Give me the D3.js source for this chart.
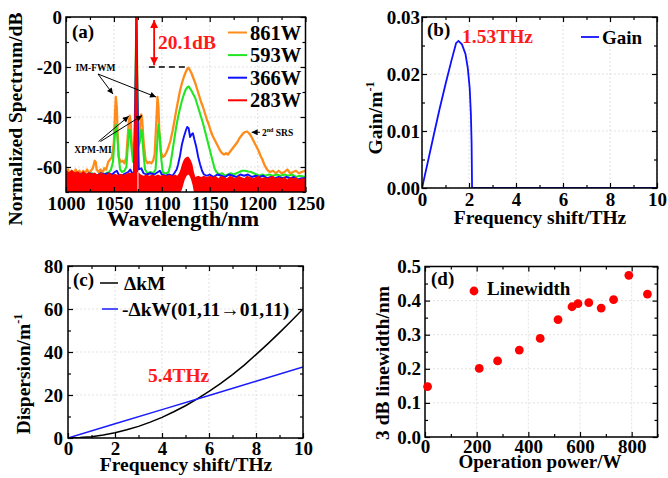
<!DOCTYPE html>
<html>
<head>
<meta charset="utf-8">
<title>fiber laser spectra</title>
<script src="https://cdn.jsdelivr.net/npm/d3@7"></script>
<style>
  body { margin: 0; background: #fff; }
  text { font-family: 'Liberation Serif', 'Times New Roman', serif; font-weight: bold; }
</style>
</head>
<body>
<svg id="fig" width="668" height="478"></svg>
<script>
// ---- panel (a): normalized spectra ----
var wl861 = [1000,1002,1004,1006,1008,1010,1012,1014,1016,1018,
  1020,1022,1024,1026,1028,1030,1031,1032,1034,1036,
  1038,1040,1042,1044,1046,1048,1050,1051,1052,1053,
  1054,1055,1057,1059,1061,1063,1064,1065.5,1066.5,1067.5,
  1068.5,1070,1071.5,1072.5,1073.5,1074.5,1075.5,1077,1078.5,1079.5,
  1081,1083,1085,1087,1089,1091,1092.5,1094,1095.5,1096.5,
  1097.5,1099,1101,1103,1105,1107,1109,1111,1113,1115,
  1117,1119,1121,1123,1125,1127,1128,1129,1131,1133,
  1135,1137,1139,1141,1143,1145,1147,1149,1151,1153,
  1155,1157,1159,1161,1163,1165,1167,1169,1171,1173,
  1175,1177,1179,1181,1183,1185,1187,1189,1191,1193,
  1195,1197,1199,1201,1203,1205,1207,1209,1211,1213,
  1216,1219,1222,1225,1228,1231,1234,1237,1240,1243,
  1246,1250];
var db861 = [-62,-61,-63,-61.5,-62.5,-61,-62.5,-61.5,-63,-61.5,
  -62.5,-61,-62.5,-61.5,-60.5,-57.5,-58,-61,-62,-61,
  -62.5,-60.5,-61,-58,-57,-56,-50,-40,-32,-36,
  -48,-56,-58,-57.5,-58.5,-56,-50,-42,-39.5,-42,
  -50,-54,-50,-30,0,-30,-48,-45,-39,-41,
  -50,-57,-58.5,-58,-58.5,-57.5,-55,-44,-32,-36,
  -47,-54,-56,-55.5,-54,-52,-49.5,-46,-42,-37.5,
  -33.5,-29.5,-26.5,-24,-22,-20.5,-20.3,-21,-22.5,-24.5,
  -26.5,-29,-31.5,-34,-36,-38.5,-41,-43,-45.5,-47.5,
  -49,-50.5,-52,-53.5,-54.5,-55,-54.5,-55,-54,-53,
  -52,-51,-50,-48.5,-47.5,-46.5,-46,-45.8,-46.5,-47.5,
  -49,-50.5,-52,-53.5,-55.5,-57,-59,-60.5,-61.5,-62,
  -61.5,-62.5,-61.5,-62.5,-62,-61,-62.5,-62,-61.5,-62.5,
  -62,-61.5];

var wl593 = [1000,1003,1006,1009,1012,1015,1018,1021,1024,1027,
  1030,1033,1036,1039,1042,1045,1047,1049,1050.5,1052,
  1053.5,1055,1056.5,1058.5,1061,1063,1064.5,1066,1067,1068.5,
  1070,1071.5,1072.5,1073.5,1074.5,1075.5,1077,1078.5,1079.5,1081,
  1082.5,1085,1088,1091,1093.5,1095,1096.5,1098,1099.5,1101,
  1103,1105,1107,1109,1111,1113,1115,1117,1119,1121,
  1123,1125,1127,1128,1129,1131,1133,1135,1137,1139,
  1141,1143,1145,1147,1149,1151,1153,1155,1157,1160,
  1163,1166,1169,1172,1175,1178,1181,1184,1187,1190,
  1193,1196,1199,1202,1205,1208,1212,1216,1220,1224,
  1228,1232,1236,1240,1244,1250];
var db593 = [-63,-62.5,-63.5,-62.5,-63.5,-63,-62.5,-63.5,-63,-62.5,
  -63,-63.5,-62.5,-63,-62.5,-62,-61,-58,-50,-43,
  -47,-56,-61,-62,-61.5,-60,-52,-45,-46,-53,
  -58,-55,-30,0,-30,-52,-50,-45,-47,-55,
  -61,-62.5,-62,-62.5,-61,-52,-43,-48,-57,-62,
  -62.5,-62.5,-62,-59,-54,-49,-44,-40,-36.5,-33.5,
  -31,-29,-28,-27.8,-28.3,-29.5,-31,-32.5,-35,-37.5,
  -40,-42.5,-45.5,-48.5,-51.5,-54.5,-57.5,-60.5,-62,-63,
  -62.5,-63.5,-63,-62.5,-63,-62.5,-62,-61.5,-61.5,-61.8,
  -62,-62.5,-63,-63.5,-63,-63.5,-63,-63.5,-63,-63.5,
  -63,-63.5,-63,-64,-63.5,-64];

var wl366 = [1000,1004,1008,1012,1016,1020,1024,1028,1032,1036,
  1040,1044,1048,1051,1053,1055,1058,1062,1065,1067,
  1069,1071,1072.5,1073.5,1074.5,1076,1078.5,1081,1084,1088,
  1092,1096,1098,1100,1104,1108,1111,1113,1115.5,1117,
  1119,1121,1123,1125,1126.5,1128,1129.5,1131,1132.5,1134,
  1136,1138,1140,1142,1144,1147,1150,1154,1158,1162,
  1166,1170,1174,1178,1182,1186,1190,1194,1198,1202,
  1206,1210,1214,1218,1222,1226,1230,1234,1238,1242,
  1246,1250];
var db366 = [-63.5,-62.5,-63.5,-62.5,-63,-63.5,-62.5,-63,-63.5,-62.5,
  -63,-62.5,-63,-62,-61.5,-63,-63.5,-62.5,-62,-61,
  -62.5,-62,-30,0,-30,-61,-60.5,-62.5,-63,-62.5,
  -63,-62,-61.5,-63,-63.5,-63,-63.5,-62.5,-61,-59,
  -55.5,-51,-48,-45.5,-44,-44.5,-48,-47,-46.5,-49,
  -52,-56,-59,-61.5,-63,-63.5,-63,-64,-63,-63.5,
  -64,-63,-63.5,-64,-63,-63.5,-63,-64,-63.5,-64,
  -63.5,-64.5,-64,-64.5,-64,-64.5,-64,-64.5,-64,-65,
  -64.5,-64.5];

// 283W is a noisy band: upper edge hi283, lower edge lo283
var wl283 = [1000,1003,1006,1009,1012,1015,1018,1021,1024,1027,
  1030,1033,1036,1039,1042,1045,1048,1051,1054,1057,
  1060,1063,1066,1069,1071,1072.5,1073.5,1074.6,1074.6,1075.6,
  1075.6,1078,1081,1084,1087,1090,1093,1096,1099,1102,
  1105,1108,1111,1114,1116,1118,1119.5,1121,1122.5,1124,
  1126,1127.5,1129,1130.5,1132,1133.5,1135,1138,1141,1144,
  1147,1150,1153,1156,1159,1162,1165,1168,1171,1174,
  1177,1180,1183,1186,1189,1192,1195,1198,1201,1204,
  1207,1210,1213,1216,1219,1222,1225,1228,1231,1234,
  1237,1240,1243,1246,1250];
var hi283 = [-61.5,-62.5,-61.5,-62.5,-62,-63,-62,-63,-62.5,-63,
  -62.5,-63.5,-62.5,-63,-63.5,-62.5,-63.5,-63,-63.5,-63,
  -63.5,-63,-62.5,-63,-62,-30,0,-40,-62,-62,
  -62,-63,-63.5,-63,-63.5,-63,-63.5,-63,-63.5,-63,
  -63.5,-63,-63.5,-63,-63.5,-62.5,-61,-59,-57.5,-56.5,
  -56,-55.8,-56.5,-57.5,-59,-62,-64,-63.5,-64,-63.5,
  -64,-63.5,-64,-63.5,-64.5,-63.5,-64,-64.5,-63.5,-64,
  -64.5,-63.5,-64,-64.5,-63.5,-64,-64.5,-64,-63.5,-64.5,
  -64,-64.5,-64,-63.5,-64.5,-64,-64.5,-64,-65,-64,
  -64.5,-64,-65,-64.5,-64.5];
var lo283 = [-70,-70,-70,-70,-70,-70,-70,-70,-70,-70,
  -70,-70,-70,-70,-70,-70,-70,-70,-70,-70,
  -70,-70,-70,-70,-70,-70,-70,-70,-62,-62,
  -70,-70,-70,-70,-70,-70,-70,-70,-70,-70,
  -70,-70,-70,-70,-70,-70,-70,-69,-67,-65,
  -63.5,-63,-63.5,-65,-67,-70,-70,-70,-70,-70,
  -70,-70,-70,-70,-70,-70,-70,-70,-70,-70,
  -70,-70,-70,-70,-70,-70,-70,-70,-70,-70,
  -70,-70,-70,-70,-70,-70,-70,-70,-70,-70,
  -70,-70,-70,-70,-70];

var powerNames = ["861W", "593W", "366W", "283W"];
var powerColors = ["#ff8c1a", "#22e622", "#1010ff", "#ff0000"];

// ---- panel (b): MI gain ----
var gainF = [0,0.25,0.5,0.75,1.0,1.25,1.45,1.55,1.7,1.85,1.95,2.03,2.08,2.11,2.13,4,6,8,10];
var gainG = [0,0.0046,0.0093,0.0139,0.0182,0.0223,0.0254,0.0258,0.0252,0.0235,0.021,0.0175,0.013,0.008,0,0,0,0,0];

// ---- panel (c): phase mismatch ----
var dispF = [0,0.5,1,1.5,2,2.5,3,3.5,4,4.5,5,5.5,6,6.5,7,7.5,8,8.5,9,9.5,10];
var dkM = [0,0.2,0.6,1.4,2.4,3.8,5.4,7.4,9.6,12.2,15,18.2,21.7,25.4,29.5,33.9,38.8,43.8,49,54.4,60];
var dkWF = [0,2,4,6,8,10];
var dkW = [0,6.6,13.2,19.8,26.4,33];

// ---- panel (d): linewidth vs power ----
var opPower = [10,210,281,365,446,515,569,592,634,682,730,789,861];
var linewidth = [0.148,0.201,0.223,0.255,0.289,0.344,0.382,0.391,0.394,0.378,0.403,0.474,0.419];

// tick values
var aTicksX = [1000,1050,1100,1150,1200,1250], aMinorX = [1025,1075,1125,1175,1225];
var aTicksY = [-60,-40,-20,0], aMinorY = [-70,-50,-30,-10];
var bTicksX = [0,2,4,6,8,10], bMinorX = [1,3,5,7,9];
var bTicksY = [0,0.01,0.02,0.03], bMinorY = [0.005,0.015,0.025];
var cTicksX = [0,2,4,6,8,10], cMinorX = [1,3,5,7,9];
var cTicksY = [0,20,40,60,80], cMinorY = [10,30,50,70];
var dTicksX = [0,200,400,600,800], dMinorX = [100,300,500,700,900];
var dTicksY = [0,0.1,0.2,0.3,0.4,0.5], dMinorY = [0.05,0.15,0.25,0.35,0.45];

var FS = 19;
var FONT = "'Liberation Serif', 'Times New Roman', Times, serif";
var svg = d3.select("#fig");

var defs = svg.append("defs");
defs.append("marker").attr("id", "arrBlack")
    .attr("viewBox", "0 0 10 10").attr("refX", 10).attr("refY", 5)
    .attr("markerUnits", "userSpaceOnUse").attr("markerWidth", 7).attr("markerHeight", 6)
    .attr("orient", "auto")
  .append("path").attr("d", "M0,0L10,5L0,10z").attr("fill", "#000");
defs.append("marker").attr("id", "arrRed")
    .attr("viewBox", "0 0 10 10").attr("refX", 10).attr("refY", 5)
    .attr("markerUnits", "userSpaceOnUse").attr("markerWidth", 9).attr("markerHeight", 8)
    .attr("orient", "auto-start-reverse")
  .append("path").attr("d", "M0,0L10,5L0,10z").attr("fill", "#ff0000");

function panel(o) {
    var x = d3.scaleLinear().domain(o.xDom).range([o.l, o.r]);
    var y = d3.scaleLinear().domain(o.yDom).range([o.b, o.t]);
    var g = svg.append("g");
    defs.append("clipPath").attr("id", "clip-" + o.name)
      .append("rect").attr("x", o.l).attr("y", o.t)
      .attr("width", o.r - o.l).attr("height", o.b - o.t);

    var grid = g.append("g").attr("stroke", "#d9d9d9")
        .attr("stroke-width", 0.8).attr("stroke-dasharray", "2,2");
    grid.selectAll(".gx").data(o.xMajor).join("line").attr("class", "gx")
        .attr("x1", function(d) { return x(d); }).attr("x2", function(d) { return x(d); })
        .attr("y1", o.t).attr("y2", o.b);
    grid.selectAll(".gy").data(o.yMajor).join("line").attr("class", "gy")
        .attr("y1", function(d) { return y(d); }).attr("y2", function(d) { return y(d); })
        .attr("x1", o.l).attr("x2", o.r);

    var plot = g.append("g").attr("clip-path", "url(#clip-" + o.name + ")");
    var axes = g.append("g");

    function tidy(sel) {
        sel.select(".domain").remove();
        sel.attr("font-size", FS).attr("font-family", FONT);
        sel.selectAll("line").attr("stroke-width", 1.2);
        sel.selectAll("text").attr("fill", "#000")
            .style("font-family", FONT).style("font-weight", "bold").style("font-size", FS + "px");
    }
    function put(axis, tx, ty) {
        axes.append("g").attr("transform", "translate(" + tx + "," + ty + ")").call(axis).call(tidy);
    }
    put(d3.axisBottom(x).tickValues(o.xMajor).tickSize(-5).tickPadding(o.xPad).tickFormat(o.xFmt), 0, o.b);
    put(d3.axisBottom(x).tickValues(o.xMinor).tickSize(-3).tickFormat(""), 0, o.b);
    put(d3.axisTop(x).tickValues(o.xMajor).tickSize(-5).tickFormat(""), 0, o.t);
    put(d3.axisTop(x).tickValues(o.xMinor).tickSize(-3).tickFormat(""), 0, o.t);
    put(d3.axisLeft(y).tickValues(o.yMajor).tickSize(-5).tickPadding(o.yPad).tickFormat(o.yFmt), o.l, 0);
    put(d3.axisLeft(y).tickValues(o.yMinor).tickSize(-3).tickFormat(""), o.l, 0);
    put(d3.axisRight(y).tickValues(o.yMajor).tickSize(-5).tickFormat(""), o.r, 0);
    put(d3.axisRight(y).tickValues(o.yMinor).tickSize(-3).tickFormat(""), o.r, 0);

    axes.append("rect").attr("x", o.l).attr("y", o.t)
        .attr("width", o.r - o.l).attr("height", o.b - o.t)
        .attr("fill", "none").attr("stroke", "#000").attr("stroke-width", 1.5);
    return { x: x, y: y, g: g, plot: plot };
}

function label(parent, txt, x, y, size, opts) {
    opts = opts || {};
    var t = parent.append("text").attr("x", x).attr("y", y)
        .style("font-family", FONT).style("font-weight", "bold")
        .attr("font-size", size).attr("fill", opts.fill || "#000")
        .attr("text-anchor", opts.anchor || "start").text(txt);
    if (opts.len) t.attr("textLength", opts.len).attr("lengthAdjust", "spacingAndGlyphs");
    return t;
}
function yTitle(txt, cx, cy, sup) {
    var t = svg.append("text").attr("transform", "translate(" + cx + "," + cy + ") rotate(-90)")
        .style("font-family", FONT).style("font-weight", "bold")
        .attr("text-anchor", "middle").attr("font-size", 19.5).text(txt);
    if (sup) t.append("tspan").attr("font-size", 12).attr("dy", -8).text(sup);
}

// =============== (a) ===============
var A = panel({ name: "a", l: 66, r: 305.5, t: 17, b: 192,
    xDom: [1000, 1250], yDom: [-70, 0],
    xMajor: aTicksX, xMinor: aMinorX, yMajor: aTicksY, yMinor: aMinorY,
    xPad: 5, yPad: 4, xFmt: function(d) { return d; }, yFmt: function(d) { return String(d); } });

var lineA = d3.line().x(function(d) { return A.x(d[0]); }).y(function(d) { return A.y(d[1]); });
[[wl861, db861, 2.3], [wl593, db593, 2.1], [wl366, db366, 1.9]].forEach(function(s, i) {
    A.plot.append("path").datum(d3.zip(s[0], s[1])).attr("d", lineA)
        .attr("fill", "none").attr("stroke", powerColors[i])
        .attr("stroke-width", s[2]).attr("stroke-linejoin", "round");
});
var redRows = wl283.map(function(w, i) { return [w, hi283[i], lo283[i]]; });
A.plot.append("path").datum(redRows)
    .attr("d", d3.area().x(function(d) { return A.x(d[0]); })
        .y0(function(d) { return A.y(d[2]); }).y1(function(d) { return A.y(d[1]); }))
    .attr("fill", powerColors[3]);
A.plot.append("path").datum(redRows.filter(function(d) { return d[0] < 1074.7; }))
    .attr("d", lineA).attr("fill", "none").attr("stroke", powerColors[3]).attr("stroke-width", 1.4);

// legend (a)
powerNames.forEach(function(n, i) {
    var yy = 32.5 + i * 22.6;
    A.g.append("line").attr("x1", 228).attr("x2", 247).attr("y1", yy).attr("y2", yy)
        .attr("stroke", powerColors[i]).attr("stroke-width", 2);
    label(A.g, n, 250, yy + 7, 20.5);
});
label(A.g, "(a)", 72, 38, 19);

// 20.1 dB marker
A.g.append("line").attr("x1", A.x(1086.5)).attr("x2", A.x(1126)).attr("y1", A.y(-20)).attr("y2", A.y(-20))
    .attr("stroke", "#000").attr("stroke-width", 1.5).attr("stroke-dasharray", "6,4");
A.g.append("line").attr("x1", A.x(1092)).attr("x2", A.x(1092)).attr("y1", A.y(-1.2)).attr("y2", A.y(-19.3))
    .attr("stroke", "#ff0000").attr("stroke-width", 1.8)
    .attr("marker-start", "url(#arrRed)").attr("marker-end", "url(#arrRed)");
label(A.g, "20.1dB", A.x(1096), A.y(-12.8), 19.5, { fill: "#ff1a1a" });

// IM-FWM / XPM-MI / 2nd SRS
label(A.g, "IM-FWM", A.x(1030.8), A.y(-21.4), 9.5, { anchor: "middle" });
[[1049, -30.8], [1094, -32]].forEach(function(p) {
    A.g.append("line").attr("x1", A.x(1033.4)).attr("y1", A.y(-22.8))
        .attr("x2", A.x(p[0])).attr("y2", A.y(p[1]))
        .attr("stroke", "#000").attr("stroke-width", 1).attr("marker-end", "url(#arrBlack)");
});
label(A.g, "XPM-MI", A.x(1028.2), A.y(-54.2), 9.5, { anchor: "middle" });
[[1034, 1065.5, -39.7], [1036, 1079.5, -39.4]].forEach(function(p) {
    A.g.append("line").attr("x1", A.x(p[0])).attr("y1", A.y(-49.8))
        .attr("x2", A.x(p[1])).attr("y2", A.y(p[2]))
        .attr("stroke", "#000").attr("stroke-width", 1).attr("marker-end", "url(#arrBlack)");
});
A.g.append("line").attr("x1", A.x(1202.5)).attr("y1", A.y(-46.1))
    .attr("x2", A.x(1193.8)).attr("y2", A.y(-46.1))
    .attr("stroke", "#000").attr("stroke-width", 1).attr("marker-end", "url(#arrBlack)");
var srs = label(A.g, "2", A.x(1204.6), A.y(-47.6), 9.5);
srs.append("tspan").attr("font-size", 6).attr("dy", -4).text("nd");
srs.append("tspan").attr("dy", 4).text(" SRS");

label(svg, "Wavelength/nm", 183, 226, 20, { anchor: "middle", len: 152 });
yTitle("Normalized Spectrum/dB", 22, 119);

// =============== (b) ===============
var B = panel({ name: "b", l: 422, r: 657, t: 17, b: 188,
    xDom: [0, 10], yDom: [0, 0.03],
    xMajor: bTicksX, xMinor: bMinorX, yMajor: bTicksY, yMinor: bMinorY,
    xPad: 5, yPad: 2, xFmt: d3.format("d"), yFmt: d3.format(".2f") });
B.plot.append("path").datum(d3.zip(gainF, gainG))
    .attr("d", d3.line().x(function(d) { return B.x(d[0]); }).y(function(d) { return B.y(d[1]); }))
    .attr("fill", "none").attr("stroke", "#1010ff").attr("stroke-width", 1.8);
label(B.g, "(b)", 427, 36, 19);
label(B.g, "1.53THz", 462, 43, 19.5, { fill: "#ff1a1a" });
B.g.append("line").attr("x1", 581).attr("x2", 599).attr("y1", 37).attr("y2", 37)
    .attr("stroke", "#1010ff").attr("stroke-width", 1.8);
label(B.g, "Gain", 602, 43.5, 19);
label(svg, "Frequency shift/THz", 540, 224, 19.5, { anchor: "middle" });
yTitle("Gain/m", 382, 118, "-1");

// =============== (c) ===============
var C = panel({ name: "c", l: 68, r: 303, t: 266, b: 438,
    xDom: [0, 10], yDom: [0, 80],
    xMajor: cTicksX, xMinor: cMinorX, yMajor: cTicksY, yMinor: cMinorY,
    xPad: 4, yPad: 5, xFmt: d3.format("d"), yFmt: d3.format("d") });
var lineC = d3.line().x(function(d) { return C.x(d[0]); }).y(function(d) { return C.y(d[1]); });
C.plot.append("path").datum(d3.zip(dispF, dkM)).attr("d", lineC)
    .attr("fill", "none").attr("stroke", "#000").attr("stroke-width", 1.5);
C.plot.append("path").datum(d3.zip(dkWF, dkW)).attr("d", lineC)
    .attr("fill", "none").attr("stroke", "#1a1aff").attr("stroke-width", 1.5);
label(C.g, "(c)", 73, 286, 19);
C.g.append("line").attr("x1", 100).attr("x2", 118).attr("y1", 283).attr("y2", 283)
    .attr("stroke", "#000").attr("stroke-width", 1.5);
label(C.g, "\u0394kM", 124, 289.5, 19.5);
C.g.append("line").attr("x1", 102).attr("x2", 118).attr("y1", 309).attr("y2", 309)
    .attr("stroke", "#1a1aff").attr("stroke-width", 1.5);
label(C.g, "-\u0394kW(01,11\u219201,11)", 122, 315.5, 19.5);
label(C.g, "5.4THz", 148, 382, 19.5, { fill: "#ff1a1a" });
label(svg, "Frequency shift/THz", 186, 471, 19.5, { anchor: "middle" });
yTitle("Dispersion/m", 30, 374, "-1");

// =============== (d) ===============
var D = panel({ name: "d", l: 425, r: 657.5, t: 266.5, b: 437,
    xDom: [0, 900], yDom: [0, 0.5],
    xMajor: dTicksX, xMinor: dMinorX, yMajor: dTicksY, yMinor: dMinorY,
    xPad: 2, yPad: 4, xFmt: d3.format("d"), yFmt: d3.format(".1f") });
D.g.selectAll(".pt").data(d3.zip(opPower, linewidth)).join("circle").attr("class", "pt")
    .attr("cx", function(d) { return D.x(d[0]); }).attr("cy", function(d) { return D.y(d[1]); })
    .attr("r", 4.4).attr("fill", "#ff0000");
label(D.g, "(d)", 431, 285, 19);
D.g.append("circle").attr("cx", 474).attr("cy", 291).attr("r", 4.4).attr("fill", "#ff0000");
label(D.g, "Linewidth", 487, 295, 19);
label(svg, "Operation power/W", 540, 468, 19.5, { anchor: "middle", len: 163 });
yTitle("3 dB linewidth/nm", 389, 363);
</script>
</body>
</html>
